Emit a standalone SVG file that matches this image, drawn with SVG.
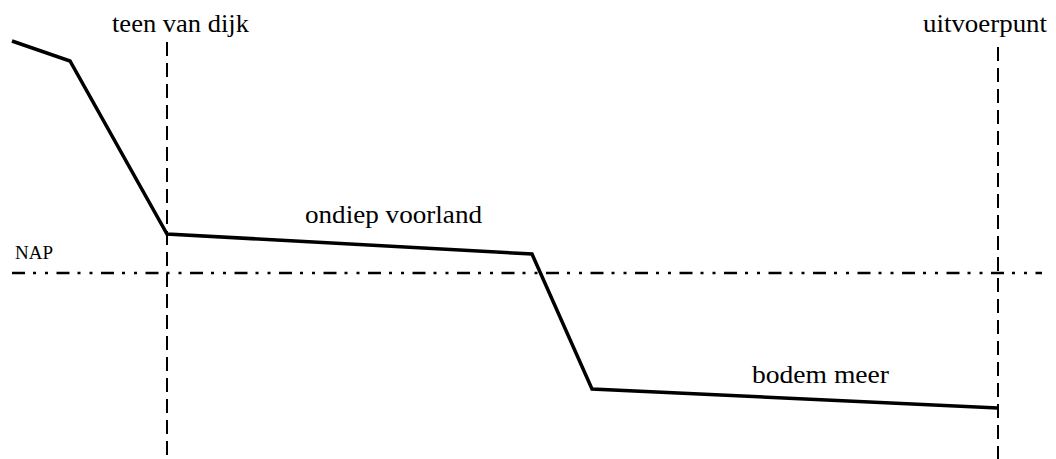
<svg xmlns="http://www.w3.org/2000/svg" width="1056" height="459" viewBox="0 0 1056 459">
<style>
.lbl{font-size:26px}
.nap{font-size:19px}
.vdash{stroke:#000;stroke-width:2;stroke-dasharray:14 7;fill:none}
.dashdot{stroke:#000;stroke-width:2.5;stroke-dasharray:13 8 3 9 3 8.5;fill:none}
.profile{stroke:#000;stroke-width:3.5;fill:none;stroke-linejoin:miter}
</style>
<defs/>
<rect width="1056" height="459" fill="#fff"/>
<g id="connectors">
<line id="nap-line" class="dashdot" x1="12" y1="273" x2="1042" y2="273"/>
<line id="teen-line" class="vdash" x1="167" y1="42" x2="167" y2="459"/>
<line id="uitvoer-line" class="vdash" x1="998" y1="47" x2="998" y2="459"/>
<polyline id="profile" class="profile" points="12,41 70,61 167,234 532,254 592,389 998,408"/>
</g>
<g id="labels" font-family="Liberation Serif, Times New Roman, Times, serif" fill="#000">
<g id="teen-van-dijk"><text class="lbl" x="112" y="32" font-family="Liberation Serif, Times New Roman, serif" textLength="137" lengthAdjust="spacingAndGlyphs">teen van dijk</text></g>
<g id="uitvoerpunt"><text class="lbl" x="923" y="32" font-family="Liberation Serif, Times New Roman, serif" textLength="124" lengthAdjust="spacingAndGlyphs">uitvoerpunt</text></g>
<g id="ondiep-voorland"><text class="lbl" x="305" y="223" font-family="Liberation Serif, Times New Roman, serif" textLength="177" lengthAdjust="spacingAndGlyphs">ondiep voorland</text></g>
<g id="bodem-meer"><text class="lbl" x="752" y="383" font-family="Liberation Serif, Times New Roman, serif" textLength="137" lengthAdjust="spacingAndGlyphs">bodem meer</text></g>
<g id="nap"><text class="nap" x="15" y="259" font-family="Liberation Serif, Times New Roman, serif" textLength="38" lengthAdjust="spacingAndGlyphs">NAP</text></g>
</g>
</svg>
